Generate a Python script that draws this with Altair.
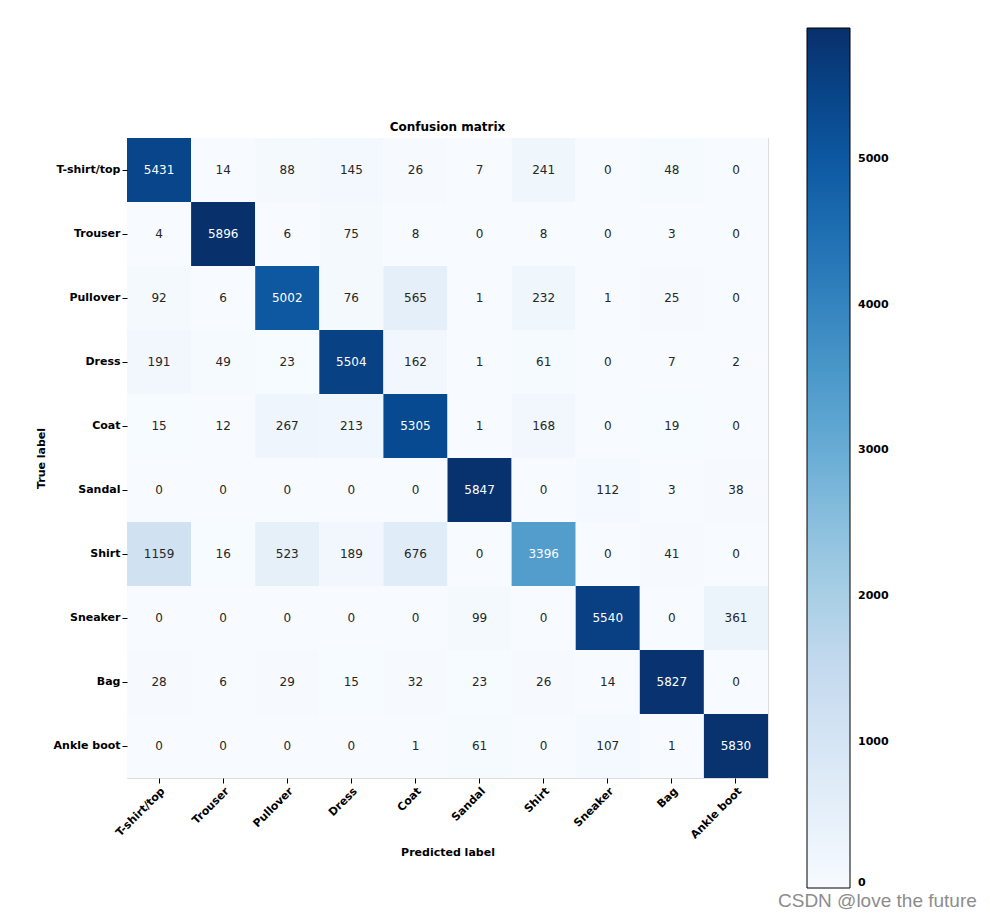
import altair as alt
import pandas as pd
import numpy as np

classes = ["T-shirt/top", "Trouser", "Pullover", "Dress", "Coat",
           "Sandal", "Shirt", "Sneaker", "Bag", "Ankle boot"]

row_tshirt = [5431, 14, 88, 145, 26, 7, 241, 0, 48, 0]
row_trouser = [4, 5896, 6, 75, 8, 0, 8, 0, 3, 0]
row_pullover = [92, 6, 5002, 76, 565, 1, 232, 1, 25, 0]
row_dress = [191, 49, 23, 5504, 162, 1, 61, 0, 7, 2]
row_coat = [15, 12, 267, 213, 5305, 1, 168, 0, 19, 0]
row_sandal = [0, 0, 0, 0, 0, 5847, 0, 112, 3, 38]
row_shirt = [1159, 16, 523, 189, 676, 0, 3396, 0, 41, 0]
row_sneaker = [0, 0, 0, 0, 0, 99, 0, 5540, 0, 361]
row_bag = [28, 6, 29, 15, 32, 23, 26, 14, 5827, 0]
row_boot = [0, 0, 0, 0, 1, 61, 0, 107, 1, 5830]

rows = [row_tshirt, row_trouser, row_pullover, row_dress, row_coat,
        row_sandal, row_shirt, row_sneaker, row_bag, row_boot]

colorbar_ticks = [0, 1000, 2000, 3000, 4000, 5000]
watermark = ["CSDN @love the future"]

records = []
for t, r in zip(classes, rows):
    for p, v in zip(classes, r):
        records.append({"true": t, "pred": p, "v": v})
df = pd.DataFrame(records)

vmax = int(df["v"].max())
thresh = vmax / 2.0

blues = ["#f7fbff", "#deebf7", "#c6dbef", "#9ecae1", "#6baed6",
         "#4292c6", "#2171b5", "#08519c", "#08306b"]
stops = list(np.linspace(0, vmax, len(blues)))

FONT = "DejaVu Sans"

x_enc = alt.X("pred:N", sort=classes,
              scale=alt.Scale(paddingInner=0, paddingOuter=0),
              axis=alt.Axis(title="Predicted label", labelAngle=-45,
                            labelAlign="right", labelBaseline="top",
                            labelFontSize=11, labelFont=FONT, labelColor="black",
                            labelFontWeight="bold",
                            titleFont=FONT, titleFontSize=11, titleFontWeight="bold",
                            titleColor="black", titlePadding=6,
                            tickSize=5, tickColor="black", domain=False,
                            labelPadding=2))
y_enc = alt.Y("true:N", sort=classes,
              scale=alt.Scale(paddingInner=0, paddingOuter=0),
              axis=alt.Axis(title="True label",
                            labelFontSize=11, labelFont=FONT, labelColor="black",
                            labelFontWeight="bold",
                            titleFont=FONT, titleFontSize=11, titleFontWeight="bold",
                            titleColor="black", titlePadding=7,
                            tickSize=5, tickColor="black", domain=False,
                            labelPadding=2))

rect = alt.Chart(df).mark_rect().encode(
    x=x_enc,
    y=y_enc,
    color=alt.Color("v:Q",
                    scale=alt.Scale(domain=stops, range=blues, interpolate="rgb"),
                    legend=alt.Legend(orient="none", legendX=680, legendY=-110,
                                      direction="vertical", title=None,
                                      gradientLength=860, gradientThickness=43,
                                      gradientStrokeColor="black",
                                      gradientStrokeWidth=1,
                                      values=colorbar_ticks, format="d",
                                      labelFontSize=11, labelFont=FONT,
                                      labelFontWeight="bold",
                                      labelColor="black", labelOverlap=False,
                                      labelOffset=8, padding=0)),
)

txt = alt.Chart(df).mark_text(fontSize=12, font=FONT).encode(
    x=alt.X("pred:N", sort=classes),
    y=alt.Y("true:N", sort=classes),
    text=alt.Text("v:Q", format="d"),
    color=alt.condition(alt.datum.v > thresh, alt.value("white"), alt.value("#262626")),
)

wm = alt.Chart(pd.DataFrame({"t": watermark})).mark_text(
    fontSize=19, font="Liberation Sans", color="#8c8c8c", align="left"
).encode(text="t:N", x=alt.value(651), y=alt.value(763))

chart = alt.layer(rect, txt, wm).properties(
    width=641, height=640,
    title=alt.TitleParams("Confusion matrix", fontSize=12, fontWeight="bold",
                          font=FONT, color="black", offset=5, frame="group",
                          dy=111),
    autosize=alt.AutoSizeParams(type="none"),
    padding={"left": 119, "top": 130, "right": 214, "bottom": 132},
).configure_view(stroke="#333333", strokeWidth=1).configure(background="white")

chart.save("out.html", embed_options={"renderer": "svg", "actions": False})
